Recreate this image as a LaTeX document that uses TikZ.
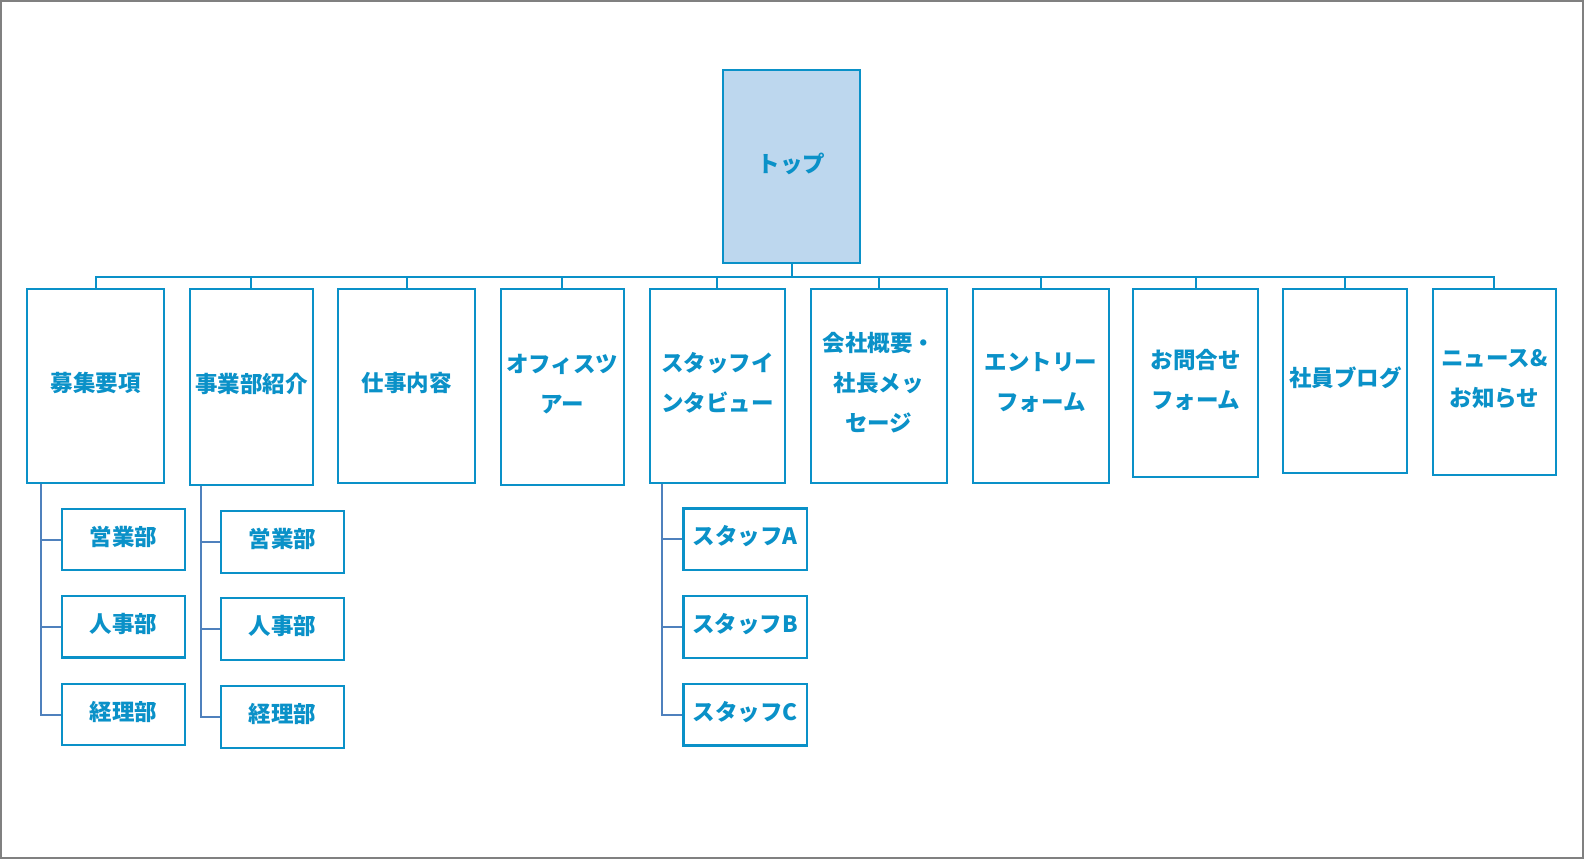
\documentclass[tikz,border=0pt]{standalone}
\usepackage{fontspec}
\newfontfamily\jp{Noto Sans CJK JP}
\usetikzlibrary{calc,backgrounds}
\definecolor{boxblue}{HTML}{0A91C8}
\definecolor{topfill}{HTML}{BDD7EE}
\definecolor{linkblue}{HTML}{4F81BD}
\definecolor{frame}{HTML}{808080}
\tikzset{
  pg/.style={draw=boxblue, line width=2.2pt, fill=white, inner sep=0pt, align=center,
    text=boxblue, text depth=8pt, font=\jp\bfseries\fontsize{22.5}{40}\selectfont},
  kid/.style={pg, minimum width=123.3pt, minimum height=61.5pt},
  bus/.style={draw=boxblue, line width=2pt},
  sub/.style={draw=linkblue, line width=2pt},
}
\begin{document}
\begin{tikzpicture}[x=1pt,y=-1pt]
\useasboundingbox (0,0) rectangle (1584,859);
% top
\node[pg, fill=topfill, minimum width=136.7pt, minimum height=192.7pt] (top) at (791.7,166.3) {トップ};
% level 1
\node[pg, minimum width=136.7pt, minimum height=193.7pt] (n1) at (95.7,385.9) {募集要項};
\node[pg, minimum width=122.7pt, minimum height=195.7pt] (n2) at (251.3,386.9) {事業部紹介};
\node[pg, minimum width=137pt, minimum height=193.7pt] (n3) at (406.8,385.9) {仕事内容};
\node[pg, minimum width=123.3pt, minimum height=195.7pt] (n4) at (562.3,386.9) {オフィスツ\\アー};
\node[pg, minimum width=135.4pt, minimum height=193.9pt] (n5) at (717.3,386) {スタッフイ\\ンタビュー};
\node[pg, minimum width=136.3pt, minimum height=193.7pt] (n6) at (878.8,385.9) {会社概要・\\社長メッ\\セージ};
\node[pg, minimum width=136.6pt, minimum height=193.7pt] (n7) at (1041,385.9) {エントリー\\フォーム};
\node[pg, minimum width=124.7pt, minimum height=187.7pt] (n8) at (1195.7,382.9) {お問合せ\\フォーム};
\node[pg, minimum width=124pt, minimum height=183.7pt] (n9) at (1345.3,380.9) {社員ブログ};
\node[pg, minimum width=123.3pt, minimum height=185.7pt] (n10) at (1494.3,381.9) {ニュース\&\\お知らせ};
% children of n1
\node[kid] (a1) at (123.3,539.5) {営業部};
\node[kid] (a2) at (123.3,626.8) {人事部};
\node[kid] (a3) at (123.3,714.5) {経理部};
% children of n2
\node[kid, minimum height=62pt] (b1) at (282.3,541.8) {営業部};
\node[kid, minimum height=62pt] (b2) at (282.3,628.8) {人事部};
\node[kid, minimum height=62pt] (b3) at (282.3,716.8) {経理部};
% children of n5
\node[kid] (c1) at (745.2,539.3) {スタッフA};
\node[kid] (c2) at (745.2,627) {スタッフB};
\node[kid] (c3) at (745.2,714.7) {スタッフC};
\begin{scope}[on background layer]
\draw[frame, line width=2pt] (1,1) rectangle (1583,858);
\foreach \n in {n1,n2,n3,n4,n5,n6,n7,n8,n9,n10}{
  \draw[bus] (top.south) -- ++(0,13.3) -| (\n.north);
}
\foreach \k in {a1,a2,a3}{ \draw[sub] ($(n1.south west)+(14.7,0)$) |- (\k.west); }
\foreach \k in {b1,b2,b3}{ \draw[sub] ($(n2.south west)+(12,0)$) |- (\k.west); }
\foreach \k in {c1,c2,c3}{ \draw[sub] ($(n5.south west)+(13,0)$) |- (\k.west); }
\end{scope}
\end{tikzpicture}
\end{document}
